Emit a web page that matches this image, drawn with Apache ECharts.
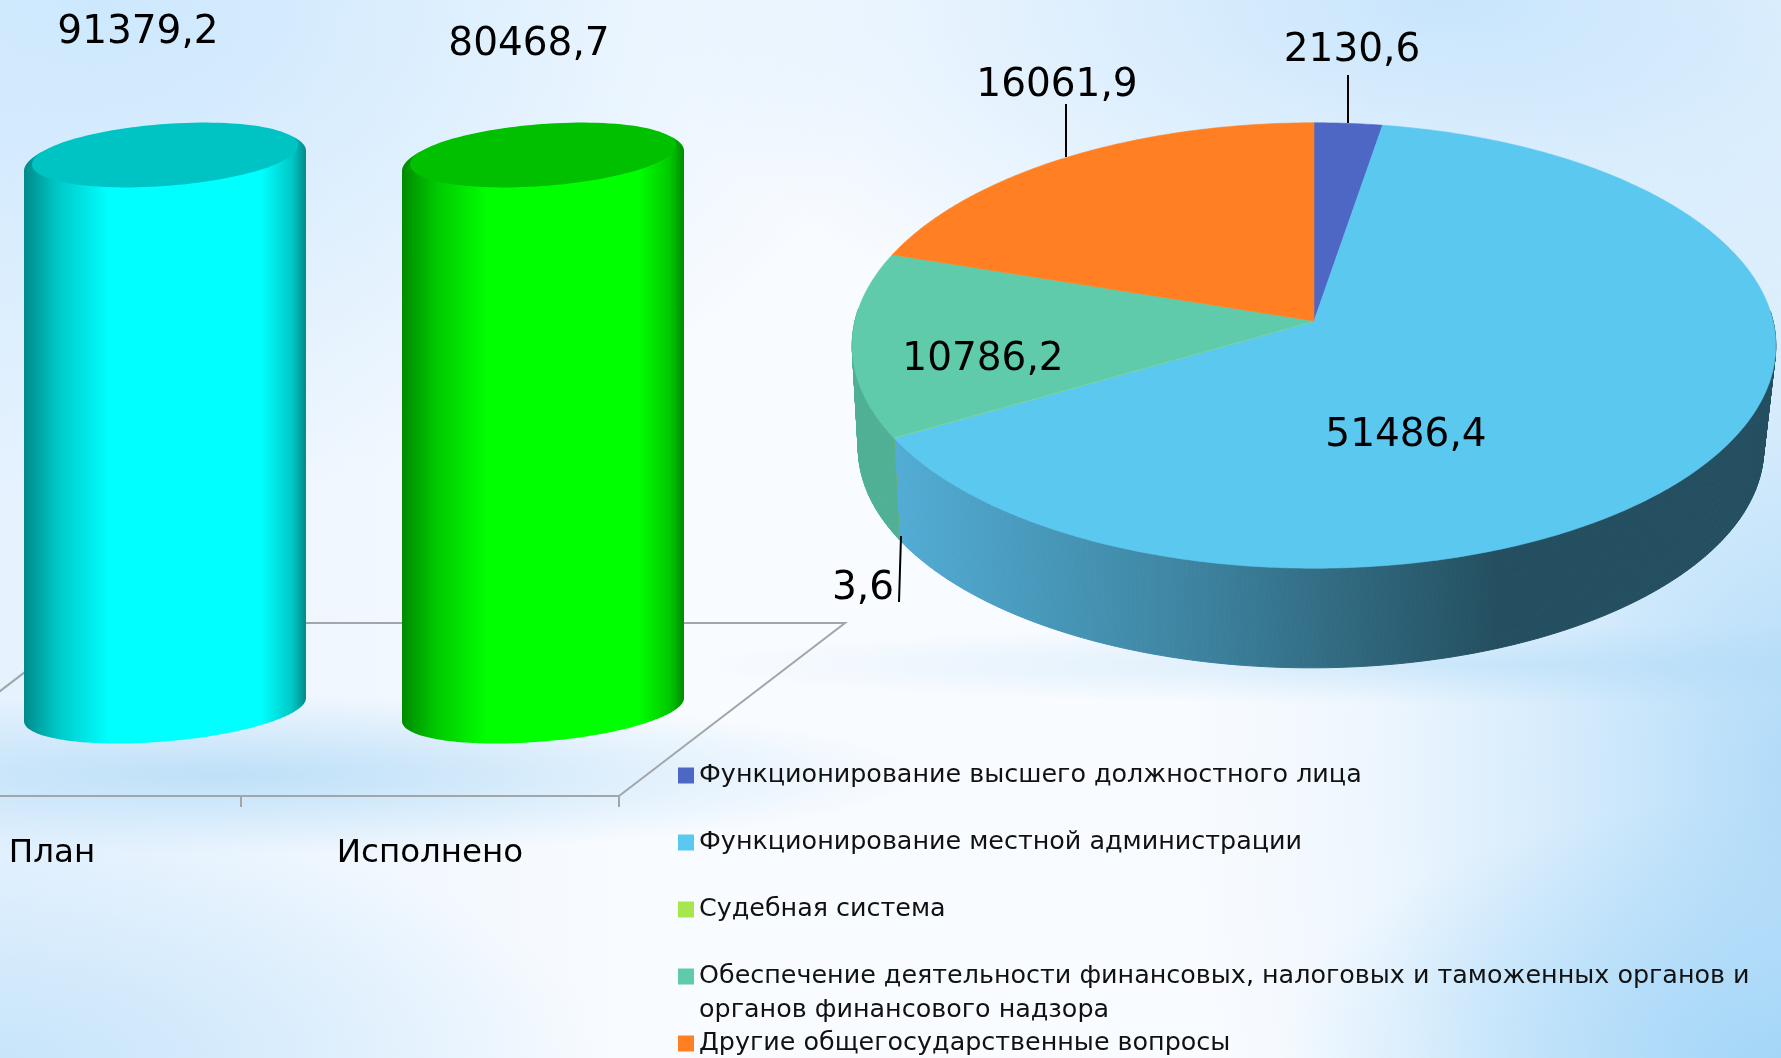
<!DOCTYPE html>
<html>
<head>
<meta charset="utf-8">
<style>
html,body{margin:0;padding:0;width:1781px;height:1058px;overflow:hidden}
body{background:
 radial-gradient(ellipse 500px 260px at 1781px 1058px, #a4d6f8 0%, rgba(164,214,248,0) 100%),
 radial-gradient(ellipse 620px 900px at 1810px 780px, rgba(170,216,248,.95) 0%, rgba(170,216,248,.45) 40%, rgba(170,216,248,.12) 72%, rgba(170,216,248,0) 100%),
 radial-gradient(ellipse 800px 380px at 1450px 0px, rgba(200,229,252,1) 0%, rgba(200,229,252,0) 100%),
 radial-gradient(ellipse 800px 500px at 100px 0px, rgba(205,232,253,1) 0%, rgba(205,232,253,0) 100%),
 radial-gradient(ellipse 700px 80px at 220px 775px, rgba(190,224,248,1) 0%, rgba(190,224,248,0) 100%),
 radial-gradient(ellipse 600px 240px at 0px 1058px, rgba(200,229,250,1) 0%, rgba(200,229,250,0) 100%),
 radial-gradient(ellipse 800px 40px at 1500px 665px, rgba(190,224,248,.6) 0%, rgba(190,224,248,0) 100%),
 linear-gradient(90deg, #e6f2fe 0%, rgba(230,242,254,0) 35%),
 #f8fbff}
#c{width:1781px;height:1058px}
</style>
<script src="https://cdn.jsdelivr.net/npm/echarts@6/dist/echarts.min.js"></script>
</head>
<body>
<div id="c"></div>
<script>
// ---------- data ----------
var barCategories = ['План', 'Исполнено'];
var barValues = [91379.2, 80468.7];
var sliceNames = [
  'Функционирование высшего должностного лица',
  'Функционирование местной администрации',
  'Судебная система',
  'Обеспечение деятельности финансовых, налоговых и таможенных органов и органов финансового надзора',
  'Другие общегосударственные вопросы'
];
var sliceValues = [2130.6, 51486.4, 3.6, 10786.2, 16061.9];

// ---------- styles and layout ----------
var FONT = '"DejaVu Sans"';
var LABEL_SIZE = 39;
var yAxisMax = 80000;                 // the bars are clipped by the axis maximum
var sliceColors = ['#4f67c4', '#5bc8f0', '#a6e64f', '#5fcbab', '#ff7f22'];
var wallColors = ['#3c4f9a', null, '#7fb23c', '#4fb095', '#c9601a'];
var barPalette = [
  {edge:'#008a8a', mid:'#00c8c8', face:'#00ffff', cap:'#00c4c4'},
  {edge:'#008a00', mid:'#00c800', face:'#00ff00', cap:'#00c000'}
];
var depthX = 226, depthY = 173;       // floor depth of the 3-D plot
var barRatio = 0.746;
var barLabelShift = [[-27, -130], [-14, -118]];
var pieK = 0.11;
var pieTop = {cx: 1314, R: 459, A: 220, y: 321};
var pieBase = {cx: 1311, R: 450, A: 217, y: 424};
var pieLabelAt = [[1352, 51], [1406, 436], [863, 589], [983, 360], [1057, 86]];
var pieLeaders = [[[1348, 75], [1348, 123]], null, [[901, 536], [899, 602]], null, [[1066, 104], [1066, 157]]];

function fmt(v) { return String(v).replace('.', ','); }
function valueText(text, x, y, size) {
  return {type: 'text', z2: 30, silent: true, style: {
    text: text, x: x, y: y, fill: '#000', align: 'center', verticalAlign: 'middle',
    fontFamily: FONT, fontSize: size || LABEL_SIZE
  }};
}

// ---------- 3-D pie projection ----------
var total = sliceValues.reduce(function (a, b) { return a + b; }, 0);
function proj(deg, plane) {
  var t = deg * Math.PI / 180, u = Math.sin(t), v = Math.cos(t), d = 1 + pieK * v;
  return [plane.cx + plane.R * u / d, plane.y - plane.A * v / d];
}
function sweep(from, to) {
  var n = Math.max(2, Math.ceil((to - from) / 0.5) + 1), out = [];
  for (var i = 0; i < n; i++) out.push(from + (to - from) * i / (n - 1));
  return out;
}
function sliceSeries(idx) {
  return {
    type: 'custom', name: sliceNames[idx], coordinateSystem: 'none',
    itemStyle: {color: sliceColors[idx]},
    data: [[sliceValues[idx]]],
    renderItem: function (params, api) {
      var before = 0;
      for (var i = 0; i < idx; i++) before += sliceValues[i];
      var a0 = before / total * 360, a1 = a0 + api.value(0) / total * 360;
      var angles = sweep(a0, a1);
      var top = angles.map(function (d) { return proj(d, pieTop); });
      var base = angles.map(function (d) { return proj(d, pieBase); });
      var wall = wallColors[idx] || {type: 'linear', global: true, x: 897, y: 0, x2: 1497, y2: 0, colorStops: [
        {offset: 0, color: '#52acd4'}, {offset: 0.5, color: '#3d839f'}, {offset: 1, color: '#244f60'}
      ]};
      var kids = [];
      // the side wall is swept segment by segment so the outline follows the silhouette;
      // segments on the far side of the disc are hidden and skipped
      for (var s = 0; s + 1 < top.length; s++) {
        if (Math.cos(angles[s] * Math.PI / 180) > 0.05) continue;
        kids.push({type: 'polygon', z2: 1, shape: {points: [top[s], top[s + 1], base[s + 1], base[s]]},
          style: {fill: wall, stroke: wall, lineWidth: 1}});
      }
      kids.push({type: 'polygon', z2: 10, shape: {points: [[pieTop.cx, pieTop.y]].concat(top)},
        style: {fill: sliceColors[idx], stroke: sliceColors[idx], lineWidth: 0.6}});
      kids.push(valueText(fmt(api.value(0)), pieLabelAt[idx][0], pieLabelAt[idx][1]));
      if (pieLeaders[idx]) {
        var L = pieLeaders[idx];
        kids.push({type: 'line', z2: 20, shape: {x1: L[0][0], y1: L[0][1], x2: L[1][0], y2: L[1][1]},
          style: {stroke: '#000', lineWidth: 2}});
      }
      return {type: 'group', children: kids};
    }
  };
}

// ---------- cylinders ----------
function ellipsePts(cx, cy, a, b, s, from, to) {
  var out = [], n = 120;
  for (var i = 0; i <= n; i++) {
    var t = (from + (to - from) * i / n) * Math.PI / 180;
    out.push([cx + a * Math.cos(t), cy - b * Math.sin(t) - s * Math.cos(t)]);
  }
  return out;
}
function renderBar(params, api) {
  var i = api.value(0), val = api.value(1), p = barPalette[i];
  var band = api.size([1, 0])[0], a = band * barRatio / 2;
  var top = api.coord([i, Math.min(val, yAxisMax)]), zero = api.coord([i, 0]);
  var cx = top[0] + depthX / 2, yT = top[1] - depthY / 2, yB = zero[1] - depthY / 2;
  var upper = ellipsePts(cx, yT - 1.5, a, 36.5, 10, 180, 0);  // left to right over the back
  var lower = ellipsePts(cx, yB, a, 32, 11.5, 0, -180);       // right to left along the front
  var grad = {type: 'linear', global: true, x: cx - a, y: 0, x2: cx + a, y2: 0, colorStops: [
    {offset: 0, color: p.edge}, {offset: 0.12, color: p.mid}, {offset: 0.3, color: p.face},
    {offset: 0.84, color: p.face}, {offset: 0.95, color: p.mid}, {offset: 1, color: p.edge}
  ]};
  var shift = barLabelShift[i];
  return {type: 'group', children: [
    {type: 'polygon', z2: 5, shape: {points: upper.concat(lower)}, style: {fill: grad}},
    {type: 'polygon', z2: 8, shape: {points: ellipsePts(cx, yT - 7.5, a - 8, 31, 9.5, 0, 360)}, style: {fill: p.cap}},
    valueText(fmt(val), cx + shift[0], yT + shift[1])
  ]};
}
function renderFloor(params, api) {
  var band = api.size([1, 0])[0];
  var c0 = api.coord([0, 0]), c1 = api.coord([barCategories.length - 1, 0]);
  var x0 = c0[0] - band / 2, x1 = c1[0] + band / 2, y = c0[1];
  var st = {stroke: '#a2a6a8', lineWidth: 2, fill: null};
  return {type: 'group', children: [
    {type: 'polyline', z2: 1, shape: {points: [[x0, y], [x0 + depthX, y - depthY], [x1 + depthX, y - depthY], [x1, y]]}, style: st}
  ]};
}

// ---------- chart ----------
var chart = echarts.init(document.getElementById('c'), null, {renderer: 'canvas'});
var series = [
  {type: 'custom', name: 'floor', coordinateSystem: 'cartesian2d', silent: true, data: [[0, 0]], renderItem: renderFloor, clip: false},
  {type: 'custom', name: 'bars', coordinateSystem: 'cartesian2d', silent: true, clip: false,
   data: barValues.map(function (v, i) { return [i, v]; }), encode: {x: 0, y: 1}, renderItem: renderBar}
];
sliceNames.forEach(function (n, i) { series.push(sliceSeries(i)); });

chart.setOption({
  animation: false,
  backgroundColor: 'transparent',
  grid: {left: -137, width: 756, top: 249, height: 547, outerBoundsMode: 'none', containLabel: false},
  xAxis: {
    type: 'category', data: barCategories,
    axisLine: {show: true, lineStyle: {color: '#a2a6a8', width: 2}},
    axisTick: {show: true, alignWithLabel: false, length: 11, lineStyle: {color: '#a2a6a8', width: 2}},
    axisLabel: {color: '#000', fontFamily: FONT, fontSize: 32.5, margin: 41}
  },
  yAxis: {type: 'value', min: 0, max: yAxisMax, show: false},
  legend: {
    orient: 'vertical', left: 678, top: 759, height: 340, padding: 0,
    data: sliceNames, icon: 'rect', itemWidth: 16, itemHeight: 16, itemGap: 34, selectedMode: false,
    textStyle: {color: '#111', fontFamily: FONT, fontSize: 25.4, lineHeight: 33},
    formatter: function (n) {
      return n.indexOf('Обеспечение') === 0 ? 'Обеспечение деятельности финансовых, налоговых и таможенных органов и' : n;
    }
  },
  graphic: [{type: 'text', left: 699, top: 998, silent: true,
    style: {text: 'органов финансового надзора', fill: '#111', fontFamily: FONT, fontSize: 25.4}}],
  series: series
});
</script>
</body>
</html>
